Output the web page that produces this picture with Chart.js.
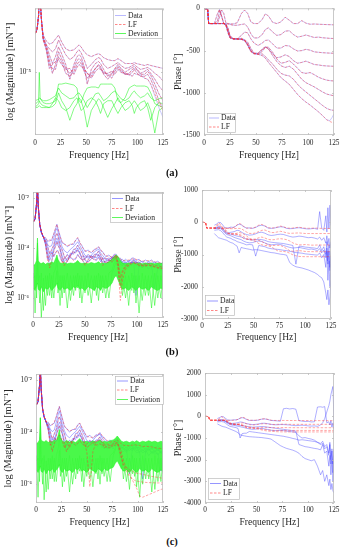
<!DOCTYPE html>
<html><head><meta charset="utf-8">
<script src="https://cdn.jsdelivr.net/npm/chart.js@4.4.1/dist/chart.umd.min.js"></script>
<style>
html,body{margin:0;padding:0;background:#fff;}
#wrap{position:relative;width:344px;height:550px;overflow:hidden;background:#fff;}
canvas{position:absolute;}
.lab{position:absolute;width:60px;text-align:center;font:bold 10.5px "Liberation Serif","Times New Roman",serif;color:#111;line-height:12px;}
</style></head><body>
<div id="wrap">
<canvas id="cAm"></canvas><canvas id="cAp"></canvas>
<canvas id="cBm"></canvas><canvas id="cBp"></canvas>
<canvas id="cCm"></canvas><canvas id="cCp"></canvas>
<div class="lab" style="left:142px;top:167px">(a)</div>
<div class="lab" style="left:142px;top:346px">(b)</div>
<div class="lab" style="left:142px;top:536px">(c)</div>
</div>
<script>
const N = null;
const X_TICK_STEP = 25;
const MAG_TICKS_A = [1e-5];
const MAG_TICKS_BC = [1e-2, 1e-4, 1e-6];

// ---------- (a) magnitude: log10 of |H| ----------
const FREQ_MAG_A = [0.5,2,3.5,4.2,5,6.5,8,11,14,17,20,23,26,30,34,38,41,43,45,48,51,55,59,62,64,67,71,75,78,81,84,88,92,95,97,99,103,107,110,113,117,121,125];
const magA1 = [-4.60,-4.56,-4.42,-4.19,-4.26,-4.49,-4.62,-4.68,-4.71,-4.70,-4.66,-4.62,-4.69,-4.76,-4.78,-4.77,-4.74,-4.72,-4.74,-4.79,-4.82,-4.84,-4.82,-4.81,-4.82,-4.85,-4.87,-4.88,-4.88,-4.86,-4.88,-4.91,-4.91,-4.91,-4.90,-4.91,-4.92,-4.93,-4.92,-4.93,-4.94,-4.95,-4.96];
const magA2 = [-4.60,-4.56,-4.42,-4.19,-4.26,-4.49,-4.64,-4.72,-4.76,-4.79,-4.76,-4.67,-4.74,-4.82,-4.87,-4.84,-4.79,-4.77,-4.80,-4.87,-4.96,-4.92,-4.87,-4.85,-4.86,-4.92,-4.96,-4.94,-4.92,-4.90,-4.93,-4.96,-4.95,-4.93,-4.92,-4.94,-4.97,-4.96,-4.95,-4.97,-5.01,-5.04,-5.09];
const magA3 = [-4.60,-4.56,-4.42,-4.19,-4.26,-4.49,-4.65,-4.72,-4.82,-4.91,-4.84,-4.74,-4.81,-4.92,-5.07,-4.92,-4.84,-4.82,-4.84,-4.94,-5.12,-4.97,-4.91,-4.89,-4.91,-4.97,-5.04,-5.01,-4.96,-4.92,-4.96,-5.00,-4.97,-4.95,-4.94,-4.96,-5.01,-4.99,-4.97,-5.01,-5.07,-5.14,-5.19];
const magA4 = [-4.60,-4.56,-4.42,-4.19,-4.26,-4.49,-4.66,-4.74,-4.87,-5.01,-4.92,-4.79,-4.86,-4.96,-5.01,-4.96,-4.88,-4.86,-4.88,-4.96,-5.01,-5.04,-4.96,-4.92,-4.94,-5.02,-5.07,-5.02,-4.97,-4.94,-4.97,-5.02,-5.01,-4.97,-4.96,-4.97,-5.02,-5.02,-4.99,-5.03,-5.12,-5.22,-5.29];
const magA5 = [-4.60,-4.56,-4.42,-4.19,-4.26,-4.49,-4.66,-4.76,-4.92,-4.96,-4.97,-4.84,-4.89,-5.01,-5.04,-4.99,-4.92,-4.89,-4.91,-4.99,-5.06,-5.01,-4.96,-4.93,-4.96,-5.00,-5.02,-5.06,-4.99,-4.95,-4.99,-5.01,-5.03,-5.00,-4.97,-5.00,-5.04,-5.04,-5.02,-5.07,-5.17,-5.29,-5.37];
const magA6 = [-4.60,-4.56,-4.42,-4.19,-4.26,-4.49,-4.67,-4.77,-4.96,-4.92,-4.89,-4.87,-4.92,-4.97,-4.96,-5.02,-4.95,-4.92,-4.94,-4.97,-5.01,-5.06,-4.99,-4.96,-4.97,-5.01,-5.01,-4.99,-5.02,-4.97,-5.00,-5.02,-5.02,-5.04,-5.01,-5.02,-5.03,-5.06,-5.07,-5.12,-5.24,-5.36,-5.46];
const fitA6 = [-4.60,-4.56,-4.42,-4.19,-4.26,-4.49,-4.67,-4.77,-4.96,-4.92,-4.89,-4.87,-4.92,-4.97,-4.96,-5.02,-4.95,-4.92,-4.94,-4.97,-5.01,-5.06,-4.99,-4.96,-4.97,-5.01,-5.01,-4.99,-5.02,-4.97,-5.00,-5.02,-5.02,-5.04,-5.01,-5.02,-5.03,-5.06,-5.07,-5.12,-5.22,-5.32,-5.39];
const devA1 = [-5.32,-5.31,-5.29,-5.00,-5.26,-5.29,-5.31,-5.32,-5.32,-5.31,-5.29,-5.12,-5.12,-5.11,-5.12,-5.13,-5.16,-5.29,-5.31,-5.22,-5.16,-5.15,-5.15,-5.16,-5.12,-5.12,-5.12,-5.12,-5.16,-5.29,-5.31,-5.26,-5.16,-5.14,-5.13,-5.14,-5.14,-5.14,-5.15,-5.21,-5.32,-5.34,-5.36];
const devA2 = [-5.35,-5.34,-5.32,-5.29,-5.31,-5.33,-5.34,-5.35,-5.36,-5.35,-5.32,-5.21,-5.29,-5.36,-5.49,-5.37,-5.32,-5.26,-5.29,-5.39,-5.56,-5.39,-5.32,-5.27,-5.29,-5.36,-5.46,-5.37,-5.32,-5.26,-5.32,-5.39,-5.36,-5.32,-5.29,-5.32,-5.39,-5.36,-5.31,-5.39,-5.62,-5.39,-5.36];
const devA3 = [-5.36,-5.36,-5.35,-5.34,-5.35,-5.36,-5.36,-5.36,-5.36,-5.32,-5.26,-5.29,-5.36,-5.39,-5.36,-5.29,-5.26,-5.32,-5.39,-5.36,-5.29,-5.26,-5.29,-5.36,-5.42,-5.32,-5.29,-5.29,-5.36,-5.42,-5.36,-5.31,-5.29,-5.34,-5.42,-5.36,-5.31,-5.29,-5.36,-5.49,-5.36,-5.31,-5.32];
const devA4 = [-5.29,-5.28,-5.28,-5.26,-5.27,-5.28,-5.29,-5.29,-5.28,-5.26,-5.24,-5.16,-5.21,-5.24,-5.27,-5.26,-5.22,-5.21,-5.24,-5.29,-5.36,-5.29,-5.22,-5.21,-5.24,-5.29,-5.26,-5.21,-5.19,-5.23,-5.27,-5.29,-5.26,-5.21,-5.19,-5.22,-5.26,-5.24,-5.21,-5.26,-5.29,-5.27,-5.26];

// ---------- (a) phase [deg] ----------
const FREQ_PH_A = [0,3.5,4.5,10,13,15,17,19,21,23,25,28,32,36,39,42,45,48,52,56,59,62,66,70,74,78,82,86,90,94,98,102,106,110,114,118,121,123,125];
const phA1 = [0,-10,-180,-180,-180,-100,-20,-60,-170,-180,-182,-185,-170,-60,-20,-60,-160,-180,-180,-130,-65,-90,-165,-180,-160,-105,-140,-180,-180,-145,-175,-188,-185,-188,-190,-192,-193,-194,-195];
const phA2 = [0,-10,-180,-180,-150,-20,-90,-180,-180,-185,-190,-200,-200,-190,-185,-220,-300,-350,-350,-310,-250,-230,-280,-320,-310,-270,-265,-310,-340,-330,-315,-330,-345,-340,-348,-352,-355,-356,-357];
const phA3 = [0,-10,-180,-180,-60,-10,-100,-180,-185,-240,-330,-360,-360,-320,-280,-290,-360,-410,-440,-410,-380,-375,-420,-470,-470,-440,-445,-480,-505,-500,-485,-495,-515,-520,-525,-528,-530,-531,-531];
const phA4 = [0,-10,-180,-180,-180,-180,-180,-180,-185,-230,-320,-360,-365,-365,-380,-420,-500,-530,-530,-490,-460,-480,-540,-585,-575,-550,-570,-620,-650,-640,-625,-645,-665,-670,-678,-682,-684,-685,-686];
const phA5 = [0,-10,-180,-180,-180,-180,-180,-180,-200,-280,-350,-360,-360,-355,-370,-400,-470,-530,-545,-510,-460,-460,-520,-600,-650,-640,-620,-660,-710,-760,-770,-760,-785,-815,-835,-850,-856,-858,-860];
const phA6 = [0,-10,-180,-180,-180,-180,-180,-180,-190,-260,-340,-360,-360,-362,-380,-430,-510,-540,-535,-480,-455,-480,-560,-630,-680,-700,-685,-720,-780,-840,-880,-905,-930,-960,-990,-1015,-1025,-1030,-1035];
const phA7 = [0,-10,-180,-180,-180,-180,-180,-180,-200,-290,-350,-362,-365,-368,-380,-440,-510,-535,-540,-540,-570,-610,-660,-720,-770,-790,-800,-840,-900,-950,-990,-1030,-1070,-1110,-1150,-1185,-1200,-1205,-1209];
const phA8 = [0,-10,-180,-180,-180,-180,-180,-180,-190,-270,-345,-362,-365,-368,-375,-430,-500,-535,-545,-560,-590,-640,-700,-760,-820,-860,-900,-960,-1020,-1070,-1110,-1145,-1185,-1225,-1270,-1320,-1330,-1295,-1250];
const fitPhA8 = [0,-10,-180,-180,-180,-180,-180,-180,-190,-270,-345,-362,-365,-368,-375,-430,-500,-535,-545,-560,-590,-640,-700,-760,-820,-860,-900,-960,-1020,-1070,-1110,-1145,-1185,-1225,-1270,-1320,-1340,-1350,-1356];

// ---------- (b),(c) magnitude: log10 of |H| ----------
const FREQ_MAG = [0.5,2,3.5,4.3,5,6.5,8,10,12,14,16,18,20,22,23,24,26,28,30,33,36,39,41,43,45,47,50,53,56,59,61,63,65,67,70,73,76,78,80,82,84,86,89,92,95,97,99,102,105,108,111,114,117,120,123,125];
const fitB1 = [-2.95,-2.82,-2.2,-1.5,-2.3,-3.05,-3.35,-3.55, -3.6,-3.7,-3.72,-3.65,-3.45, -3.15,-3.05,-3.2,-3.55,-3.75, -3.85,-3.9,-3.88,-3.8,-3.7, -3.58,-3.75,-3.95,-4.1,-4.15, -4.15,-4.1,-4.0,-3.95,-4.05, -4.2,-4.3,-4.35,-4.35,-4.3, -4.28,-4.38,-4.45,-4.5,-4.5, -4.48,-4.45,-4.42,-4.45,-4.5, -4.52,-4.52,-4.5,-4.52,-4.55, -4.58,-4.6,-4.6];
const fitB2 = [-2.95,-2.82,-2.2,-1.5,-2.3,-3.05,-3.35,-3.55, -3.7,-3.95,-4.2,-4.1,-3.85, -3.5,-3.4,-3.55,-3.85,-4.1, -4.3,-4.55,-4.3,-4.1,-4.0, -3.9,-4.0,-4.2,-4.45,-4.6, -4.4,-4.3,-4.2,-4.15,-4.25, -4.45,-4.6,-4.55,-4.45,-4.38, -4.32,-4.6,-5.2,-4.9,-4.7, -4.62,-4.55,-4.52,-4.56,-4.62, -4.66,-4.65,-4.62,-4.65,-4.7, -4.72,-4.74,-4.75];
const fitB3 = [-2.95,-2.82,-2.2,-1.5,-2.3,-3.05,-3.35,-3.55, -3.8,-4.3,-4.8,-4.5,-4.15, -3.85,-3.75,-3.85,-4.1,-4.4, -4.7,-4.5,-4.25,-4.2,-4.15, -4.1,-4.2,-4.4,-4.7,-4.45, -4.35,-4.35,-4.3,-4.28,-4.4, -4.7,-4.55,-4.45,-4.4,-4.35, -4.35,-4.9,-6.1,-5.3,-4.85, -4.7,-4.62,-4.6,-4.62,-4.7, -4.72,-4.7,-4.68,-4.7,-4.75, -4.78,-4.8,-4.8];
const fitB4 = [-2.95,-2.82,-2.2,-1.5,-2.3,-3.05,-3.35,-3.55, -3.85,-4.5,-4.3,-4.2,-4.3, -4.2,-4.1,-4.15,-4.3,-4.6, -4.4,-4.3,-4.35,-4.5,-4.4, -4.3,-4.35,-4.5,-4.4,-4.3, -4.35,-4.5,-4.45,-4.4,-4.5, -4.45,-4.4,-4.5,-4.55,-4.45, -4.4,-4.7,-5.6,-5.0,-4.75, -4.68,-4.6,-4.58,-4.62,-4.68, -4.7,-4.72,-4.7,-4.72,-4.76, -4.8,-4.82,-4.83];
const datB1 = [-2.95,-2.83,-2.2,-1.5,-2.3,-3.07,-3.37,-3.57, -3.58,-3.75,-3.68,-3.7,-3.42, -3.2,-3.05,-3.25,-3.5,-3.8, -3.82,-3.95,-3.85,-3.86,-3.68, -3.6,-3.8,-3.9,-4.15,-4.08, -4.2,-4.05,-4.05,-3.95,-4.1, -4.15,-4.35,-4.28,-4.4,-4.25, -4.25,-4.42,-4.4,-4.56,-4.45, -4.55,-4.4,-4.4,-4.5,-4.45, -4.58,-4.48,-4.55,-4.48,-4.6, -4.52,-4.65,-4.55];
const datB2 = [-2.95,-2.83,-2.2,-1.5,-2.3,-3.07,-3.37,-3.57, -3.72,-3.9,-4.25,-4.05,-3.9, -3.48,-3.42,-3.5,-3.9,-4.05, -4.35,-4.5,-4.35,-4.05,-4.05, -3.88,-4.05,-4.15,-4.5,-4.55, -4.45,-4.25,-4.25,-4.12,-4.3, -4.4,-4.65,-4.5,-4.5,-4.35, -4.3,-4.5,-4.6,-4.55,-4.7, -4.55,-4.6,-4.48,-4.6,-4.55, -4.7,-4.6,-4.68,-4.6,-4.75, -4.65,-4.78,-4.7];
const datB3 = [-2.95,-2.83,-2.2,-1.5,-2.3,-3.07,-3.37,-3.57, -3.82,-4.25,-4.7,-4.55,-4.1, -3.9,-3.72,-3.9,-4.05,-4.45, -4.65,-4.55,-4.2,-4.25,-4.1, -4.12,-4.15,-4.45,-4.65,-4.5, -4.3,-4.4,-4.25,-4.3,-4.35, -4.65,-4.5,-4.5,-4.35,-4.4, -4.3,-4.55,-4.5,-4.65,-4.55, -4.7,-4.55,-4.62,-4.55,-4.75, -4.65,-4.75,-4.62,-4.75,-4.68, -4.85,-4.7,-4.8];
const datB4 = [-2.95,-2.83,-2.2,-1.5,-2.3,-3.07,-3.37,-3.57, -3.88,-4.45,-4.35,-4.15,-4.35, -4.15,-4.12,-4.1,-4.35,-4.55, -4.45,-4.25,-4.4,-4.45,-4.45, -4.25,-4.4,-4.45,-4.45,-4.25, -4.4,-4.45,-4.5,-4.35,-4.55, -4.4,-4.45,-4.45,-4.6,-4.4, -4.35,-4.6,-4.65,-4.7,-4.6, -4.8,-4.55,-4.65,-5.9,-4.7, -4.8,-4.65,-4.85,-4.7,-5.6, -4.75,-4.9,-4.8];
const datB5 = [-2.95,-2.83,-2.2,-1.5,-2.3,-3.07,-3.37,-3.57, -3.65,-3.85,-3.95,-3.9,-3.6, -3.3,-3.22,-3.35,-3.7,-3.95, -4.1,-4.2,-4.05,-3.95,-3.85, -3.75,-3.9,-4.05,-4.3,-4.35, -4.3,-4.15,-4.1,-4.05,-4.2, -4.3,-4.45,-4.4,-4.45,-4.32, -4.3,-4.45,-4.5,-4.45,-4.6, -4.5,-4.52,-4.45,-4.55,-4.6, -4.52,-4.65,-4.55,-4.62,-4.55, -4.7,-4.6,-4.68];
const datB6 = [-2.95,-2.83,-2.2,-1.5,-2.3,-3.07,-3.37,-3.57, -3.75,-4.1,-4.5,-4.3,-4.0, -3.7,-3.6,-3.7,-4.0,-4.3, -4.55,-4.4,-4.3,-4.15,-4.2, -4.0,-4.25,-4.35,-4.35,-4.4, -4.35,-4.35,-4.4,-4.25,-4.45, -4.55,-4.55,-4.6,-4.4,-4.5, -4.38,-4.65,-4.55,-4.6,-4.75, -4.6,-4.7,-4.55,-4.7,-4.62, -4.78,-4.7,-4.6,-4.8,-4.72, -4.6,-4.8,-4.75];
const devBhi = [-4.7,-4.65,-4.5,-3.6,-4.5,-4.6,-4.62,-4.58, -4.65,-4.6,-4.62,-4.55,-4.6, -4.4,-4.28,-4.45,-4.6,-4.62, -4.58,-4.63,-4.6,-4.62,-4.58, -4.5,-4.6,-4.62,-4.6,-4.63, -4.58,-4.62,-4.6,-4.55,-4.62, -4.6,-4.62,-4.55,-4.45,-4.35, -4.28,-4.35,-4.5,-4.6,-4.62, -4.6,-4.63,-4.58,-4.62,-4.6, -4.63,-4.6,-4.62,-4.6,-4.63, -4.6,-4.62,-4.6];
const devBlo = [-5.6,-5.7,-5.5,-5.4,-5.65,-5.7,-5.55,-5.75, -5.6,-5.65,-5.55,-5.7,-5.6, -5.5,-5.4,-5.6,-5.7,-5.55, -5.65,-5.6,-5.7,-5.55,-5.6, -5.5,-5.65,-5.6,-5.7,-5.55, -5.62,-5.7,-5.55,-5.6,-5.68, -5.55,-5.62,-5.55,-5.4,-5.2, -5.1,-5.3,-5.5,-5.65,-5.6, -5.7,-5.55,-5.62,-5.7,-5.55, -5.65,-5.6,-5.7,-5.55,-5.65, -5.7,-5.6,-5.65];
const devBs1 = [-5.0,-6.6,-5.0,-3.8,-5.1,-6.2,-5.0,-6.5, -5.1,-5.9,-5.0,-6.0,-5.0, -4.8,-4.4,-5.0,-6.3,-5.1, -5.8,-5.0,-6.1,-5.1,-5.7, -5.0,-6.0,-5.1,-5.8,-5.0, -6.2,-5.1,-5.9,-5.0,-5.7, -5.1,-6.0,-5.0,-4.9,-4.6, -4.4,-4.6,-5.0,-5.9,-5.1, -6.3,-5.0,-5.8,-5.1,-6.6, -5.0,-5.9,-5.1,-6.4,-5.0, -6.0,-5.1,-5.7];
const devBs2 = [-5.2,-5.1,-6.0,-4.4,-5.3,-5.1,-6.8,-5.2, -6.3,-5.1,-5.9,-5.1,-6.0, -5.2,-4.9,-5.8,-5.1,-6.0, -5.1,-6.4,-5.1,-5.9,-5.1, -5.6,-5.1,-6.2,-5.1,-5.9, -5.1,-5.7,-5.1,-6.1,-5.1, -5.8,-5.1,-6.0,-5.0,-4.8, -4.5,-4.9,-5.5,-5.1,-6.0, -5.1,-5.7,-5.1,-6.2,-5.1, -6.1,-5.1,-5.9,-5.1,-6.3, -5.1,-6.0,-5.1];

const fitC1 = [-2.95,-2.82,-2.2,-1.5,-2.3,-3.1,-3.4,-3.6, -3.65,-3.72,-3.72,-3.62,-3.42, -3.12,-3.02,-3.18,-3.5,-3.75, -3.88,-3.95,-3.92,-3.85,-3.75, -3.65,-3.8,-4.0,-4.15,-4.2, -4.2,-4.15,-4.08,-4.03,-4.12, -4.25,-4.32,-4.38,-4.38,-4.35, -4.3,-4.38,-4.45,-4.5,-4.52, -4.52,-4.5,-4.48,-4.5,-4.52, -4.55,-4.55,-4.55,-4.57,-4.6, -4.62,-4.63,-4.64];
const fitC2 = [-2.95,-2.82,-2.2,-1.5,-2.3,-3.1,-3.4,-3.6, -3.75,-4.0,-4.25,-4.1,-3.85, -3.5,-3.4,-3.55,-3.85,-4.1, -4.35,-4.6,-4.35,-4.1,-4.0, -3.92,-4.05,-4.3,-4.75,-6.1, -4.75,-4.4,-4.25,-4.2,-4.3, -4.45,-4.6,-4.6,-4.5,-4.45, -4.4,-4.55,-4.75,-5.1,-5.4, -5.6,-5.85,-6.0,-6.15,-6.45, -6.5,-6.45,-6.4,-6.35,-6.3, -6.25,-6.2,-6.18];
const fitC3 = [-2.95,-2.82,-2.2,-1.5,-2.3,-3.1,-3.4,-3.6, -3.85,-4.35,-4.75,-4.45,-4.15, -3.85,-3.75,-3.85,-4.1,-4.45, -4.75,-4.5,-4.3,-4.2,-4.15, -4.1,-4.2,-4.4,-4.6,-4.5, -4.4,-4.38,-4.32,-4.3,-4.4, -4.6,-4.55,-4.5,-4.45,-4.42, -4.4,-4.6,-4.95,-5.25,-5.35, -5.45,-5.5,-5.55,-5.58,-5.6, -5.62,-5.65,-5.68,-5.7,-5.72, -5.74,-5.76,-5.78];
const fitC4 = [-2.95,-2.82,-2.2,-1.5,-2.3,-3.1,-3.4,-3.6, -3.9,-4.5,-4.35,-4.25,-4.3, -4.2,-4.12,-4.2,-4.35,-4.6, -4.45,-4.35,-4.4,-4.5,-4.42, -4.35,-4.4,-4.5,-4.45,-4.35, -4.4,-4.5,-4.48,-4.45,-4.5, -4.5,-4.45,-4.5,-4.55,-4.5, -4.45,-4.7,-5.0,-5.3,-5.5, -5.7,-5.8,-5.85,-5.88,-5.9, -5.92,-5.93,-5.94,-5.94,-5.95, -5.95,-5.95,-5.95];
const datC1 = [-2.95,-2.83,-2.2,-1.5,-2.3,-3.12,-3.42,-3.62, -3.62,-3.76,-3.7,-3.66,-3.4, -3.15,-3.02,-3.2,-3.48,-3.8, -3.85,-4.0,-3.9,-3.9,-3.72, -3.66,-3.85,-3.95,-4.2,-4.12, -4.25,-4.1,-4.12,-4.02,-4.18, -4.2,-4.38,-4.3,-4.42,-4.3, -4.25,-4.42,-4.38,-4.55,-4.45, -4.58,-4.42,-4.45,-4.52,-4.45, -4.6,-4.48,-4.58,-4.5,-4.62, -4.52,-4.66,-4.55];
const datC2 = [-2.95,-2.83,-2.2,-1.5,-2.3,-3.12,-3.42,-3.62, -3.76,-3.95,-4.3,-4.05,-3.9, -3.48,-3.42,-3.5,-3.9,-4.05, -4.4,-4.55,-4.4,-4.05,-4.05, -3.9,-4.1,-4.25,-4.55,-4.5, -4.5,-4.3,-4.3,-4.18,-4.35, -4.45,-4.65,-4.55,-4.55,-4.4, -4.3,-4.52,-4.62,-4.58,-4.72, -4.58,-4.65,-4.5,-4.62,-4.58, -4.72,-4.62,-4.7,-4.62,-4.78, -4.66,-4.8,-4.72];
const datC3 = [-2.95,-2.83,-2.2,-1.5,-2.3,-3.12,-3.42,-3.62, -3.86,-4.3,-4.7,-4.5,-4.1, -3.9,-3.75,-3.92,-4.08,-4.5, -4.7,-4.55,-4.25,-4.28,-4.1, -4.15,-4.18,-4.5,-4.62,-4.45, -4.35,-4.45,-4.3,-4.35,-4.4, -4.65,-4.52,-4.55,-4.4,-4.45, -4.32,-4.58,-4.52,-4.68,-4.58, -4.72,-4.58,-4.65,-4.58,-4.78, -4.68,-4.78,-4.65,-4.78,-4.7, -4.88,-4.72,-4.82];
const datC4 = [-2.95,-2.83,-2.2,-1.5,-2.3,-3.12,-3.42,-3.62, -3.92,-4.45,-4.4,-4.2,-4.35, -4.2,-4.15,-4.12,-4.4,-4.6, -4.5,-4.3,-4.45,-4.5,-4.48, -4.3,-4.45,-4.5,-4.5,-4.3, -4.45,-4.5,-4.55,-4.4,-4.6, -4.45,-4.5,-4.5,-4.65,-4.45, -4.38,-4.62,-4.7,-4.75,-4.65, -5.6,-4.6,-4.7,-4.8,-4.75, -5.8,-4.7,-4.9,-4.75,-4.85, -4.8,-5.5,-4.85];
const datC5 = [-2.95,-2.83,-2.2,-1.5,-2.3,-3.12,-3.42,-3.62, -3.68,-3.88,-3.98,-3.92,-3.62, -3.3,-3.2,-3.35,-3.72,-3.95, -4.12,-4.22,-4.08,-3.98,-3.88, -3.78,-3.92,-4.08,-4.32,-4.38, -4.32,-4.18,-4.12,-4.08,-4.22, -4.32,-4.48,-4.42,-4.48,-4.35, -4.3,-4.48,-4.52,-4.48,-4.62, -4.52,-4.55,-4.48,-4.58,-4.62, -4.55,-4.68,-4.58,-4.65,-4.58, -4.72,-4.62,-4.7];
const datC6 = [-2.95,-2.83,-2.2,-1.5,-2.3,-3.12,-3.42,-3.62, -3.78,-4.12,-4.5,-4.32,-4.02, -3.72,-3.62,-3.72,-4.02,-4.32, -4.55,-4.42,-4.32,-4.18,-4.22, -4.02,-4.28,-4.38,-4.38,-4.42, -4.38,-4.38,-4.42,-4.28,-4.48, -4.58,-4.58,-4.62,-4.42,-4.52, -4.4,-4.68,-4.58,-4.62,-4.78, -4.62,-4.72,-4.58,-4.72,-4.65, -4.8,-4.72,-4.62,-4.82,-4.75, -4.62,-4.82,-4.78];
const devChi = [-4.45,-4.4,-4.3,-3.45,-4.3,-4.35,-4.38,-4.32, -4.4,-4.35,-4.38,-4.3,-4.35, -4.1,-3.9,-4.2,-4.35,-4.38, -4.32,-4.38,-4.35,-4.4,-4.33, -4.25,-4.35,-4.38,-4.35,-4.4, -4.33,-4.38,-4.35,-4.3,-4.38, -4.35,-4.38,-4.33,-4.3,-4.25, -4.15,-4.25,-4.35,-4.38,-4.35, -4.4,-4.35,-4.38,-4.33,-4.4, -4.35,-4.38,-4.33,-4.38,-4.35, -4.4,-4.35,-4.38];
const devClo = [-5.45,-5.55,-5.4,-5.3,-5.5,-5.55,-5.4,-5.6, -5.45,-5.5,-5.4,-5.55,-5.45, -5.35,-5.25,-5.45,-5.55,-5.4, -5.5,-5.45,-5.55,-5.4,-5.45, -5.35,-5.5,-5.45,-5.55,-5.4, -5.48,-5.55,-5.4,-5.45,-5.52, -5.4,-5.48,-5.4,-5.35,-5.2, -5.1,-5.25,-5.4,-5.5,-5.45, -5.55,-5.4,-5.48,-5.55,-5.4, -5.5,-5.45,-5.55,-5.4,-5.5, -5.55,-5.45,-5.5];
const devCs1 = [-4.9,-6.5,-4.9,-3.45,-5.0,-6.0,-4.9,-6.3, -5.0,-5.8,-4.9,-5.9,-4.9, -4.6,-4.1,-4.9,-6.1,-5.0, -5.7,-4.9,-6.0,-5.0,-5.6, -4.9,-5.9,-5.0,-5.7,-4.9, -6.1,-5.0,-5.8,-4.9,-5.6, -5.0,-5.9,-4.9,-4.8,-4.6, -4.3,-4.5,-4.9,-5.8,-5.0, -6.2,-4.9,-5.7,-5.0,-6.5, -4.9,-5.8,-5.0,-6.3,-4.9, -5.9,-5.0,-5.6];
const devCs2 = [-5.1,-5.0,-5.9,-4.2,-5.2,-5.0,-6.6,-5.1, -6.2,-5.0,-5.8,-5.0,-5.9, -5.1,-4.7,-5.7,-5.0,-5.9, -5.0,-6.3,-5.0,-5.8,-5.0, -5.5,-5.0,-6.1,-5.0,-5.8, -5.0,-5.6,-5.0,-6.0,-5.0, -5.7,-5.0,-5.9,-4.9,-4.7, -4.4,-4.8,-5.4,-5.0,-5.9, -5.0,-5.6,-5.0,-6.1,-5.0, -6.0,-5.0,-5.8,-5.0,-6.2, -5.0,-5.9,-5.0];

// ---------- (b),(c) phase [deg] ----------
const FREQ_PH = [0,3.5,4.5,8, 12,14,16,18, 20,22,24,26, 28,30,32,34, 36,38,40,43, 46,49,52,55, 58,61,64,67, 70,73,76,79, 82,85,88,91, 94,97,100,103, 106,109,112,114, 116,118,120,121, 122,123,124,125];
const fitPB1 = [0,-10,-180,-180, -180,-100,-20,-60, -170,-180,-185,-185, -180,-170,-140,-80, -40,-60,-120,-180, -185,-180,-150,-90, -70,-110,-170,-180, -175,-150,-120,-140, -175,-185,-180,-165, -155,-170,-185,-188, -185,-180,-185,-188, -190,-190,-192,-192, -193,-193,-194,-195];
const fitPB2 = [0,-10,-180,-180, -180,-180,-180,-180, -185,-200,-280,-340, -355,-360,-355,-340, -320,-330,-360,-420, -500,-530,-520,-480, -460,-490,-530,-545, -540,-520,-510,-520, -540,-580,-640,-680, -700,-700,-690,-700, -710,-710,-705,-705, -706,-706,-706,-706, -706,-706,-706,-706];
const fitPB3 = [0,-10,-180,-180, -180,-180,-180,-180, -190,-230,-320,-355, -360,-362,-365,-370, -380,-400,-440,-500, -530,-540,-545,-560, -600,-650,-700,-720, -720,-715,-720,-760, -820,-880,-900,-890, -880,-890,-905,-910, -912,-913,-913,-913, -913,-913,-913,-913, -913,-913,-913,-913];
const fitPB4 = [0,-10,-180,-180, -180,-180,-180,-185, -210,-280,-350,-360, -362,-365,-370,-380, -400,-440,-500,-530, -540,-560,-600,-660, -700,-720,-730,-760, -820,-880,-900,-905, -920,-960,-1010,-1040, -1060,-1065,-1068,-1068, -1068,-1068,-1068,-1068, -1068,-1068,-1068,-1068, -1068,-1068,-1068,-1068];
const fitPB5 = [0,-10,-180,-180, -180,-150,-60,-120, -180,-185,-190,-195, -200,-200,-195,-190, -190,-200,-240,-300, -345,-350,-330,-290, -250,-240,-280,-320, -320,-300,-280,-300, -330,-345,-340,-335, -330,-340,-348,-350, -350,-350,-350,-350, -350,-350,-350,-350, -350,-350,-350,-350];
const datPB1 = [N,N,N,N, -90,-60,-5,-10, -80,-170,-180,-170, -150,-160,-140,-90, -60,-80,-130,-180, -175,-190,-160,-110, -90,-120,-180,-190, -180,-160,-140,-150, -190,-200,-195,-180, -170,-185,-200,-210, -200,-190,-220,330, -180,-250,200,-300, 450,-200,530,-100];
const datPB2 = [N,N,N,N, -180,-170,-120,-150, -200,-260,-320,-330, -310,-300,-280,-250, -260,-300,-340,-380, -400,-390,-360,-320, -310,-340,-390,-410, -400,-380,-370,-380, -410,-440,-460,-450, -430,-440,-460,-480, -470,-490,-520,-460, -560,-480,-650,-420, -700,-500,-800,-600];
const datPB3 = [N,N,N,N, -200,-190,-185,-200, -260,-330,-380,-400, -420,-450,-480,-500, -520,-540,-580,-620, -640,-630,-600,-580, -600,-640,-680,-700, -690,-680,-690,-720, -750,-780,-800,-790, -780,-800,-820,-840, -830,-850,-880,-820, -950,-860,-1100,-800, -1300,-900,-1500,-1000];
const datPB4 = [N,N,N,N, -250,-240,-230,-260, -320,-400,-460,-480, -500,-540,-560,-600, -620,-640,-660,-700, -690,-700,-1050,-720, -740,-760,-800,-820, -830,-840,-850,-870, -880,-900,-920,-940, -950,-960,-980,-990, -1000,-1010,-1020,-950, -1100,-1000,-1400,-900, -1800,-1200,-2000,-1300];
const datPB5 = [N,N,N,N, -350,-420,-480,-500, -520,-540,-560,-600, -630,-650,-700,-740, -950,-780,-800,-820, -840,-860,-850,-860, -880,-900,-920,-940, -950,-970,-990,-1000, -1020,-1250,-1330,-1380, -1400,-1420,-1450,-1480, -1520,-1560,-1620,-1680, -1720,-1850,-2200,-2400, -2100,-2560,-2300,-1800];
const datPB6 = [N,N,N,N, -190,-180,-150,-170, -220,-300,-350,-360, -370,-390,-410,-430, -440,-460,-480,-520, -540,-550,-540,-530, -540,-560,-600,-620, -630,-640,-650,-660, -680,-700,-720,-1300, -740,-750,-770,-780, -790,-800,-820,-700, -880,-760,-1000,-600, -1200,-700,-1400,-900];

const fitPC1 = [0,-10,-180,-180, -180,-100,-20,-60, -170,-180,-185,-185, -180,-170,-140,-80, -40,-60,-120,-180, -185,-180,-160,-120, -110,-140,-180,-190, -190,-190,-190,-192, -192,-194,-195,-195, -196,-196,-197,-198, -198,-198,-199,-199, -199,-200,-200,-200, -200,-200,-200,-200];
const fitPC2 = [0,-10,-180,-180, -180,-180,-180,-180, -185,-210,-290,-340, -355,-360,-355,-330, -300,-310,-340,-380, -400,-390,-370,-345, -340,-355,-370,-375, -370,-365,-362,-365, -370,-372,-372,-370, -370,-370,-370,-370, -370,-370,-370,-370, -370,-370,-370,-370, -370,-370,-370,-370];
const fitPC3 = [0,-10,-180,-180, -180,-180,-180,-182, -200,-260,-340,-360, -362,-365,-370,-380, -395,-420,-460,-500, -520,-525,-520,-510, -505,-510,-520,-525, -525,-522,-520,-520, -522,-525,-525,-525, -525,-525,-525,-525, -525,-525,-525,-525, -525,-525,-525,-525, -525,-525,-525,-525];
const fitPC4 = [0,-10,-180,-180, -180,-180,-180,-185, -215,-290,-350,-360, -365,-370,-380,-400, -430,-470,-520,-540, -545,-560,-590,-630, -660,-680,-690,-700, -710,-715,-718,-720, -720,-720,-720,-720, -720,-720,-720,-720, -720,-720,-720,-720, -720,-720,-720,-720, -720,-720,-720,-720];
const fitPC5 = [0,-10,-180,-180, -180,-180,-180,-180, -190,-240,-330,-358, -362,-366,-372,-385, -410,-450,-500,-530, -540,-545,-560,-590, -610,-630,-640,-650, -650,-650,-650,-650, -650,-650,-650,-650, -650,-650,-650,-650, -650,-650,-650,-650, -650,-650,-650,-650, -650,-650,-650,-650];
const datPC1 = [N,N,N,N, -100,-60,-10,-20, -100,-170,-180,-175, -160,-165,-140,-90, -60,-90,-140,-190, -185,-190,-170,-130, -120,-150,-190,-200, -210,-230,350,370, 340,360,330,-200, -220,-240,-230,-260, -250,430,440,420, 450,-300,-250,-400, -200,-500,-300,-600];
const datPC2 = [N,N,N,N, -180,-170,-150,-170, -210,-270,-320,-330, -320,-310,-290,-260, -270,-300,-330,-360, -380,-370,-350,-320, -320,-340,-370,-390, -390,-380,-380,-390, -400,-420,-430,-420, -410,-420,-440,-450, -440,-460,-400,-300, -100,200,500,700, 1000,1200,1380,-200];
const datPC3 = [N,N,N,N, -200,-190,-185,-200, -250,-320,-380,-400, -420,-440,-460,-480, -500,-520,-550,-580, -600,-590,-570,-560, -580,-610,-640,-660, -660,-650,-660,-680, -700,-720,-740,-900, -1000,-980,-1020,-1050, -1100,-1200,-1300,-1250, -1500,-1400,-1800,-1300, -2000,-1600,-2200,-1500];
const datPC4 = [N,N,N,N, -260,-250,-240,-260, -320,-400,-460,-480, -500,-520,-560,-1000, -800,-780,-780,-700, -720,-740,-760,-780, -800,-820,-840,-860, -880,-900,-920,-950, -980,-1020,-1050,-1100, -1080,-1100,-1120,-1140, -1160,-1200,-1250,-1150, -1400,-1300,-1700,-1200, -2200,-1500,-2600,-1800];
const datPC5 = [N,N,N,N, -350,-400,-450,-480, -500,-540,-580,-620, -660,-700,-760,-850, -880,-900,-920,-940, -950,-960,-970,-980, -1000,-1020,-1050,-1150, -1250,-1350,-1420,-1480, -1520,-1560,-1620,-1700, -1850,-1950,-2000,-2050, -2000,-2300,-2700,-2500, -3000,-2700,-3200,-2900, -3380,-3100,-3450,-3530];
const datPC6 = [N,N,N,N, -220,-200,-180,-200, -240,-300,-340,-360, -380,-390,-400,-420, -430,-440,-460,-480, -500,-490,-480,-470, -480,-500,-520,-540, -560,-580,-600,-620, -640,-660,-680,-1300, -1350,-1400,-1420,-1450, -1480,-1500,-1550,-1300, -1700,-1600,-2300,-1800, -2700,-2000,-3000,-2200];

// ---------- styling & helpers ----------
const SERIF = '"Liberation Serif","Times New Roman",serif';
const TXT = '#262626';
const FRAME = '#bcbcbc';
const BLUE = 'rgba(40,40,255,0.62)';
const BLUE_A = 'rgba(95,95,255,0.55)';
const RED = 'rgba(255,45,45,0.72)';
const GREEN = 'rgba(35,245,35,0.92)';
const GREEN_FILL = 'rgba(60,248,60,0.93)';
const SUP = {'-':'\u207B','0':'\u2070','1':'\u00B9','2':'\u00B2','3':'\u00B3','4':'\u2074','5':'\u2075','6':'\u2076','7':'\u2077','8':'\u2078','9':'\u2079'};
function powLabel(v){const e=Math.round(Math.log10(v));return '10'+String(e).split('').map(c=>SUP[c]).join('');}

function series(xs, ys, isLog, style){
  return Object.assign({
    data: xs.map((x,i)=>({x:x, y: ys[i]===null ? null : (isLog ? Math.pow(10, ys[i]) : ys[i])})),
    pointRadius:0, fill:false, tension:0, borderWidth:0.6
  }, style);
}
const sData = c => ({borderColor:c||BLUE});
const sFit = () => ({borderColor:RED, borderDash:[2.5,1.5]});
const sDev = () => ({borderColor:GREEN});

const framePlugin = {
  id:'frameLegend',
  afterDatasetsDraw(chart){
    const {ctx, chartArea:a} = chart;
    ctx.save();
    ctx.strokeStyle = FRAME; ctx.lineWidth = 0.8; ctx.setLineDash([]);
    ctx.strokeRect(a.left+0.4, a.top+0.4, a.right-a.left-0.8, a.bottom-a.top-0.8);
    const xs = chart.scales.x, ys = chart.scales.y;
    ctx.beginPath();
    xs.ticks.forEach(t=>{const p=Math.round(xs.getPixelForValue(t.value))+0.5; ctx.moveTo(p,a.bottom); ctx.lineTo(p,a.bottom-2); ctx.moveTo(p,a.top); ctx.lineTo(p,a.top+2);});
    ys.ticks.forEach(t=>{const p=Math.round(ys.getPixelForValue(t.value))+0.5; ctx.moveTo(a.left,p); ctx.lineTo(a.left+2,p); ctx.moveTo(a.right,p); ctx.lineTo(a.right-2,p);});
    ctx.stroke();
    ctx.restore();
  },
  afterDraw(chart, args, opts){
    const L = opts.box; if(!L) return;
    const ctx = chart.ctx;
    ctx.save();
    ctx.fillStyle='#fff'; ctx.fillRect(L.x, L.y, L.w, L.h);
    ctx.strokeStyle=FRAME; ctx.lineWidth=0.7; ctx.strokeRect(L.x+0.5, L.y+0.5, L.w, L.h);
    opts.items.forEach(it=>{
      ctx.strokeStyle=it.color; ctx.lineWidth=0.8; ctx.setLineDash(it.dash||[]);
      ctx.beginPath(); ctx.moveTo(L.sx1, it.y+0.5); ctx.lineTo(L.sx2, it.y+0.5); ctx.stroke();
      ctx.setLineDash([]);
      ctx.fillStyle=TXT; ctx.font='7.6px '+SERIF; ctx.textBaseline='middle'; ctx.textAlign='left';
      ctx.fillText(it.text, L.tx, it.y+0.5);
    });
    ctx.restore();
  }
};

function panel(id, box, area, yScale, yTitle, yTitlePad, xTitlePad, xTickPad, datasets, legend){
  const cv = document.getElementById(id);
  cv.width = box.w; cv.height = box.h;
  cv.style.left = box.x+'px'; cv.style.top = box.y+'px';
  const yW = area.l - box.x, xH = box.y + box.h - area.b;
  const lg = {
    box: {x:legend.x-box.x, y:legend.y-box.y, w:legend.w, h:legend.h, sx1:legend.sx1-box.x, sx2:legend.sx2-box.x, tx:legend.tx-box.x},
    items: legend.items.map(it=>Object.assign({}, it, {y: it.y-box.y}))
  };
  const y = Object.assign({
    grid:{display:false, drawTicks:false}, border:{display:false},
    title:{display:true, text:yTitle.text, font:{family:SERIF, size:yTitle.size}, color:TXT, padding:{top:yTitlePad, bottom:0}},
    afterFit: s => { s.width = yW; }
  }, yScale);
  y.ticks = Object.assign({font:{family:SERIF, size:7.3}, color:TXT, padding:4, autoSkip:false}, yScale.ticks||{});
  new Chart(cv, {
    type:'line',
    data:{datasets},
    options:{
      responsive:false, animation:false, devicePixelRatio:1,
      layout:{padding:{left:0, top:area.t-box.y, right:box.x+box.w-area.r, bottom:0}},
      plugins:{legend:{display:false}, tooltip:{enabled:false}, frameLegend:lg},
      elements:{point:{radius:0}, line:{tension:0}},
      scales:{
        x:{type:'linear', min:0, max:125,
           ticks:{stepSize:X_TICK_STEP, font:{family:SERIF, size:7.3}, color:TXT, padding:xTickPad, maxRotation:0, autoSkip:false},
           grid:{display:false, drawTicks:false}, border:{display:false},
           title:{display:true, text:'Frequency [Hz]', font:{family:SERIF, size:9.5}, color:TXT, padding:{top:0, bottom:xTitlePad}},
           afterFit: s => { s.height = xH; }},
        y: y
      }
    },
    plugins:[framePlugin]
  });
}

function logAxis(min, max, ticks){
  return {type:'logarithmic', min:min, max:max,
    afterBuildTicks: s => { s.ticks = ticks.map(v=>({value:v})); },
    ticks:{callback: v => powLabel(v)}};
}
function linAxis(min, max, step){
  return {type:'linear', min:min, max:max, ticks:{stepSize:step, callback: v => String(v)}};
}
const MAG_TITLE = {text:'log (Magnitude) [mN\u207B\u00B9]', size:10.3};
const PH_TITLE = {text:'Phase [\u00B0]', size:10};

function leg3(x,y,w,h,sx1,sx2,tx,y1,y2,y3,blue){
  return {x,y,w,h,sx1,sx2,tx, items:[{text:'Data',color:blue},{text:'LF',color:RED,dash:[2.5,1.5]},{text:'Deviation',color:GREEN}].map((it,i)=>Object.assign(it,{y:[y1,y2,y3][i]}))};
}
function leg2(x,y,w,h,sx1,sx2,tx,y1,y2,blue){
  return {x,y,w,h,sx1,sx2,tx, items:[{text:'Data',color:blue,y:y1},{text:'LF',color:RED,dash:[2.5,1.5],y:y2}]};
}

// ----- (a) -----
panel('cAm', {x:0,y:0,w:172,h:165}, {l:35,t:6,r:163,b:135},
  logAxis(2.29e-6, 4.5e-5, MAG_TICKS_A), MAG_TITLE, 3.7, 4.3, 3.5,
  [magA1,magA2,magA3,magA4,magA5,fitA6].map(a=>series(FREQ_MAG_A,a,true,sFit()))
   .concat([devA1,devA2,devA3,devA4].map(a=>series(FREQ_MAG_A,a,true,sDev())))
   .concat([magA1,magA2,magA3,magA4,magA5,magA6].map(a=>series(FREQ_MAG_A,a,true,sData(BLUE_A)))),
  leg3(113,9,49,29,115,126,128,15,24,33,BLUE_A));

panel('cAp', {x:172,y:0,w:172,h:165}, {l:204,t:6,r:334,b:135},
  linAxis(-1500, 0, 500), PH_TITLE, 0, 4.3, 3.5,
  [phA1,phA2,phA3,phA4,phA5,phA6,phA7,fitPhA8].map(a=>series(FREQ_PH_A,a,false,sFit()))
   .concat([phA1,phA2,phA3,phA4,phA5,phA6,phA7,phA8].map(a=>series(FREQ_PH_A,a,false,sData(BLUE_A)))),
  leg2(207,113,28,19,209,219,221,117.5,126.5,BLUE_A));

// ----- (b) -----
const bandB = [
  series(FREQ_MAG, devBhi, true, {borderColor:GREEN}),
  series(FREQ_MAG, devBlo, true, {borderColor:GREEN, fill:'-1', backgroundColor:GREEN_FILL}),
  series(FREQ_MAG, devBs1, true, sDev()),
  series(FREQ_MAG, devBs2, true, sDev())
];
panel('cBm', {x:0,y:175,w:172,h:175}, {l:33,t:192,r:163,b:318},
  logAxis(1.585e-7, 1.74e-2, MAG_TICKS_BC), MAG_TITLE, 3, 6.8, 3,
  [fitB1,fitB2,fitB3,fitB4].map(a=>series(FREQ_MAG,a,true,sFit()))
   .concat(bandB)
   .concat([datB1,datB2,datB3,datB4,datB5,datB6].map(a=>series(FREQ_MAG,a,true,sData()))),
  leg3(110,193,52,29,112,123,125,198,208,217,BLUE));

panel('cBp', {x:172,y:175,w:172,h:175}, {l:202,t:190,r:331,b:319},
  linAxis(-3000, 1000, 1000), PH_TITLE, 0, 6.8, 3,
  [fitPB1,fitPB2,fitPB3,fitPB4,fitPB5].map(a=>series(FREQ_PH,a,false,sFit()))
   .concat([datPB1,datPB2,datPB3,datPB4,datPB5,datPB6].map(a=>series(FREQ_PH,a,false,sData()))),
  leg2(205,295,29,20,207,218,220,300.5,310,BLUE));

// ----- (c) -----
const bandC = [
  series(FREQ_MAG, devChi, true, {borderColor:GREEN}),
  series(FREQ_MAG, devClo, true, {borderColor:GREEN, fill:'-1', backgroundColor:GREEN_FILL}),
  series(FREQ_MAG, devCs1, true, sDev()),
  series(FREQ_MAG, devCs2, true, sDev())
];
panel('cCm', {x:0,y:360,w:172,h:172}, {l:36,t:374,r:163,b:503},
  logAxis(1.9e-7, 1.7e-2, MAG_TICKS_BC), MAG_TITLE, 2, 4, 2.5,
  [fitC1,fitC2,fitC3,fitC4].map(a=>series(FREQ_MAG,a,true,sFit()))
   .concat(bandC)
   .concat([datC1,datC2,datC3,datC4,datC5,datC6].map(a=>series(FREQ_MAG,a,true,sData()))),
  leg3(115,376,48,28,117,128,130,380.5,389.5,399,BLUE));

panel('cCp', {x:172,y:360,w:172,h:172}, {l:205,t:373,r:334,b:503},
  linAxis(-4000, 2000, 1000), PH_TITLE, 0, 4, 2.5,
  [fitPC1,fitPC2,fitPC3,fitPC4,fitPC5].map(a=>series(FREQ_PH,a,false,sFit()))
   .concat([datPC1,datPC2,datPC3,datPC4,datPC5,datPC6].map(a=>series(FREQ_PH,a,false,sData()))),
  leg2(208,478,31,21,210,221,223,483,492.5,BLUE));
</script>
</body></html>
